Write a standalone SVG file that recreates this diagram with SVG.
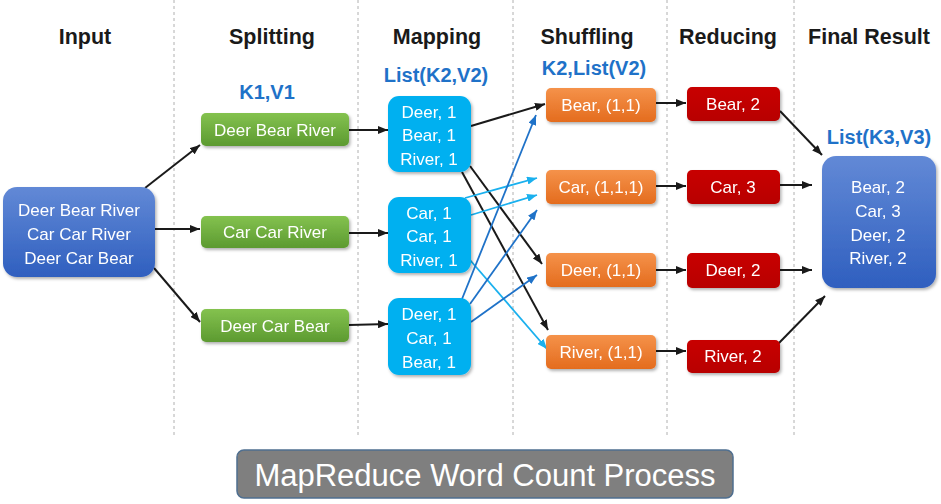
<svg xmlns="http://www.w3.org/2000/svg" width="941" height="504" viewBox="0 0 941 504">
<defs>
<linearGradient id="gBlue" x1="0" y1="0" x2="0" y2="1"><stop offset="0" stop-color="#6289d6"/><stop offset="1" stop-color="#2f5fbf"/></linearGradient>
<linearGradient id="gGreen" x1="0" y1="0" x2="0" y2="1"><stop offset="0" stop-color="#84c24f"/><stop offset="1" stop-color="#5c9a30"/></linearGradient>
<linearGradient id="gOrange" x1="0" y1="0" x2="0" y2="1"><stop offset="0" stop-color="#f5924a"/><stop offset="1" stop-color="#e46c1e"/></linearGradient>
<linearGradient id="gRed" x1="0" y1="0" x2="0" y2="1"><stop offset="0" stop-color="#c80000"/><stop offset="1" stop-color="#b80000"/></linearGradient>
<filter id="sh" x="-10%" y="-10%" width="130%" height="140%"><feDropShadow dx="1.5" dy="2" stdDeviation="1.5" flood-color="#000" flood-opacity="0.3"/></filter>
<marker id="aK" markerUnits="userSpaceOnUse" markerWidth="10" markerHeight="8" refX="10" refY="4" orient="auto"><path d="M0,0 L10,4 L0,8 z" fill="#1a1a1a"/></marker>
<marker id="aL" markerUnits="userSpaceOnUse" markerWidth="10" markerHeight="8" refX="10" refY="4" orient="auto"><path d="M0,0 L10,4 L0,8 z" fill="#1ab0ee"/></marker>
<marker id="aD" markerUnits="userSpaceOnUse" markerWidth="10" markerHeight="8" refX="10" refY="4" orient="auto"><path d="M0,0 L10,4 L0,8 z" fill="#1f72c8"/></marker>
</defs>
<style>
.hdr{font-family:"Liberation Sans",Arial,sans-serif;font-weight:bold;font-size:21.5px;fill:#1a1a1a;text-anchor:middle}
.lbl{font-family:"Liberation Sans",Arial,sans-serif;font-weight:bold;font-size:20px;fill:#1f72c8;text-anchor:middle}
.t{font-family:"Liberation Sans",Arial,sans-serif;font-size:17px;fill:#fff;text-anchor:middle}
.sep{stroke:#b0b0b0;stroke-width:1;stroke-dasharray:3,3}
.k{stroke:#1a1a1a;stroke-width:2;fill:none;marker-end:url(#aK)}
.l{stroke:#1ab0ee;stroke-width:1.8;fill:none;marker-end:url(#aL)}
.d{stroke:#1f72c8;stroke-width:1.8;fill:none;marker-end:url(#aD)}
</style>
<rect width="941" height="504" fill="#fff"/>
<g id="separators">
<line class="sep" x1="174" y1="0" x2="174" y2="438"/>
<line class="sep" x1="358" y1="0" x2="358" y2="438"/>
<line class="sep" x1="513" y1="0" x2="513" y2="438"/>
<line class="sep" x1="667" y1="0" x2="667" y2="438"/>
<line class="sep" x1="794" y1="0" x2="794" y2="438"/>
</g>
<g id="headers">
<text class="hdr" x="85" y="44">Input</text>
<text class="hdr" x="272" y="44">Splitting</text>
<text class="hdr" x="437" y="44">Mapping</text>
<text class="hdr" x="587" y="44">Shuffling</text>
<text class="hdr" x="728" y="44">Reducing</text>
<text class="hdr" x="869" y="44">Final Result</text>
<text class="lbl" x="267" y="99">K1,V1</text>
<text class="lbl" x="436" y="82">List(K2,V2)</text>
<text class="lbl" x="594" y="75">K2,List(V2)</text>
<text class="lbl" x="879" y="144">List(K3,V3)</text>
</g>
<g id="connectors">
<line class="k" x1="145" y1="188" x2="200" y2="145"/>
<line class="k" x1="155" y1="229" x2="200" y2="229"/>
<line class="k" x1="154" y1="268" x2="200" y2="322"/>
<line class="k" x1="349" y1="130" x2="388" y2="130"/>
<line class="k" x1="349" y1="233" x2="388" y2="233"/>
<line class="k" x1="349" y1="325" x2="388" y2="324"/>
<line class="k" x1="471" y1="126" x2="545" y2="104"/>
<line class="k" x1="470" y1="166" x2="542" y2="264"/>
<line class="k" x1="462" y1="172" x2="548" y2="330"/>
<line class="l" x1="465" y1="198" x2="537" y2="178"/>
<line class="l" x1="471" y1="215" x2="537" y2="195"/>
<line class="l" x1="470" y1="260" x2="547" y2="349"/>
<line class="d" x1="462" y1="299" x2="536" y2="115"/>
<line class="d" x1="470" y1="304" x2="537" y2="210"/>
<line class="d" x1="471" y1="322" x2="537" y2="275"/>
<line class="k" x1="656" y1="103" x2="686" y2="103"/>
<line class="k" x1="656" y1="186" x2="686" y2="186"/>
<line class="k" x1="656" y1="270" x2="686" y2="270"/>
<line class="k" x1="656" y1="351" x2="686" y2="351"/>
<line class="k" x1="780" y1="111" x2="822" y2="155"/>
<line class="k" x1="780" y1="185" x2="812" y2="185"/>
<line class="k" x1="780" y1="270" x2="812" y2="270"/>
<line class="k" x1="778" y1="344" x2="825" y2="296"/>
</g>
<g id="input" filter="url(#sh)">
<rect x="3" y="187" width="152" height="90" rx="14" fill="url(#gBlue)"/>
<text class="t" x="79" y="216">Deer Bear River</text>
<text class="t" x="79" y="240">Car Car River</text>
<text class="t" x="79" y="264">Deer Car Bear</text>
</g>
<g id="split1" filter="url(#sh)"><rect x="201" y="113" width="148" height="33" rx="5" fill="url(#gGreen)"/><text class="t" x="275" y="136">Deer Bear River</text></g>
<g id="split2" filter="url(#sh)"><rect x="201" y="216" width="148" height="32" rx="5" fill="url(#gGreen)"/><text class="t" x="275" y="238">Car Car River</text></g>
<g id="split3" filter="url(#sh)"><rect x="201" y="309" width="148" height="33" rx="5" fill="url(#gGreen)"/><text class="t" x="275" y="332">Deer Car Bear</text></g>
<g id="map1" filter="url(#sh)"><rect x="388" y="96" width="83" height="76" rx="11" fill="#00b0f0"/><text class="t" x="429" y="118">Deer, 1</text><text class="t" x="429" y="141">Bear, 1</text><text class="t" x="429" y="165">River, 1</text></g>
<g id="map2" filter="url(#sh)"><rect x="388" y="197" width="83" height="76" rx="11" fill="#00b0f0"/><text class="t" x="429" y="219">Car, 1</text><text class="t" x="429" y="242">Car, 1</text><text class="t" x="429" y="266">River, 1</text></g>
<g id="map3" filter="url(#sh)"><rect x="388" y="298" width="83" height="77" rx="11" fill="#00b0f0"/><text class="t" x="429" y="320">Deer, 1</text><text class="t" x="429" y="344">Car, 1</text><text class="t" x="429" y="368">Bear, 1</text></g>
<g id="shuf1" filter="url(#sh)"><rect x="546" y="88" width="110" height="34" rx="5" fill="url(#gOrange)"/><text class="t" x="601" y="111">Bear, (1,1)</text></g>
<g id="shuf2" filter="url(#sh)"><rect x="546" y="170" width="110" height="34" rx="5" fill="url(#gOrange)"/><text class="t" x="601" y="193">Car, (1,1,1)</text></g>
<g id="shuf3" filter="url(#sh)"><rect x="546" y="253" width="110" height="34" rx="5" fill="url(#gOrange)"/><text class="t" x="601" y="276">Deer, (1,1)</text></g>
<g id="shuf4" filter="url(#sh)"><rect x="546" y="335" width="110" height="34" rx="5" fill="url(#gOrange)"/><text class="t" x="601" y="358">River, (1,1)</text></g>
<g id="red1" filter="url(#sh)"><rect x="687" y="87" width="93" height="34" rx="5" fill="url(#gRed)"/><text class="t" x="733" y="110">Bear, 2</text></g>
<g id="red2" filter="url(#sh)"><rect x="687" y="170" width="93" height="34" rx="5" fill="url(#gRed)"/><text class="t" x="733" y="193">Car, 3</text></g>
<g id="red3" filter="url(#sh)"><rect x="687" y="253" width="93" height="35" rx="5" fill="url(#gRed)"/><text class="t" x="733" y="276">Deer, 2</text></g>
<g id="red4" filter="url(#sh)"><rect x="687" y="340" width="93" height="33" rx="5" fill="url(#gRed)"/><text class="t" x="733" y="362">River, 2</text></g>
<g id="final" filter="url(#sh)">
<rect x="822" y="156" width="114" height="132" rx="14" fill="url(#gBlue)"/>
<text class="t" x="878" y="193">Bear, 2</text>
<text class="t" x="878" y="217">Car, 3</text>
<text class="t" x="878" y="241">Deer, 2</text>
<text class="t" x="878" y="264">River, 2</text>
</g>
<g id="title">
<rect x="237" y="450" width="496" height="48" rx="7" fill="#7f7f7f" stroke="#4f6f90" stroke-width="1.5"/>
<text x="485" y="486" font-family="'Liberation Sans',Arial,sans-serif" font-size="31" fill="#fff" text-anchor="middle">MapReduce Word Count Process</text>
</g>
</svg>
